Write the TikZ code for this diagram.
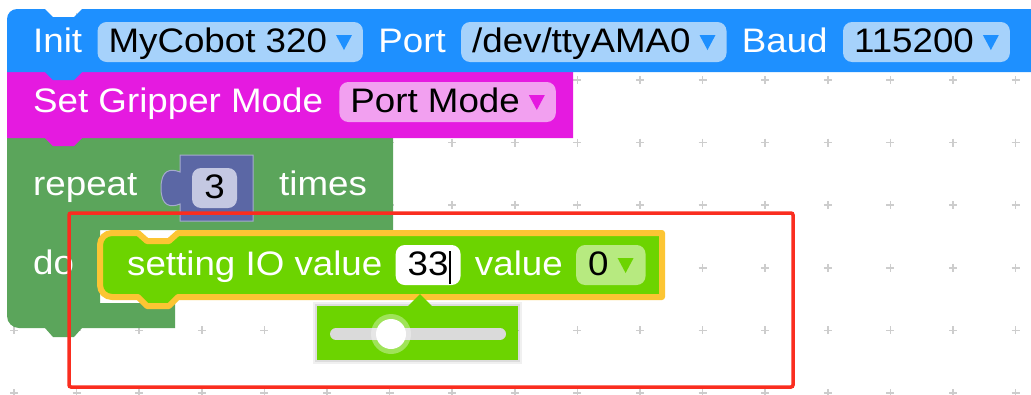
\documentclass[tikz,border=0pt]{standalone}
\usepackage{fontspec}
\newfontfamily\blockfont{Liberation Sans}[FakeStretch=1.08]
\usepackage{tikz}
\usetikzlibrary{positioning}
\tikzset{
	blocktext/.style={font=\blockfont\fontsize{34}{40}\selectfont, text=white, inner sep=0pt},
	fieldpill/.style={font=\blockfont\fontsize{34}{40}\selectfont, text=black, rounded corners=9pt, inner xsep=11pt, inner ysep=4pt, text height=26pt, text depth=6pt},
	gridplus/.style={plusgray, line width=1.6pt},
	selline/.style={draw=selyellow, line width=6pt, line join=round},
}
\definecolor{initblue}{RGB}{30,144,255}
\definecolor{initfield}{RGB}{166,210,251}
\definecolor{grippink}{RGB}{229,26,224}
\definecolor{gripfield}{RGB}{242,160,240}
\definecolor{loopgreen}{RGB}{91,165,91}
\definecolor{mathblue}{RGB}{91,103,165}
\definecolor{mathfield}{RGB}{196,200,226}
\definecolor{iogreen}{RGB}{108,212,0}
\definecolor{iofield}{RGB}{183,234,128}
\definecolor{selyellow}{RGB}{252,197,51}
\definecolor{markred}{RGB}{250,45,31}
\definecolor{trackgray}{RGB}{218,218,218}
\definecolor{plusgray}{RGB}{205,205,205}
\newcommand{\dropdown}[1]{\hspace{9pt}\tikz[baseline=0pt, sharp corners]\fill[#1] (0pt,17pt) -- (16pt,17pt) -- (8pt,2pt) -- cycle;}

\begin{document}
\begin{tikzpicture}[x=1pt,y=-1pt]
	\useasboundingbox (0,0) rectangle (1031,394);
	\fill[white] (0,0) rectangle (1031,394);
	\foreach \gx in {0,...,16}
		\foreach \gy in {0,...,6}
			\draw[gridplus] ({14+62.6*\gx-4},{17.4+62.6*\gy}) -- ++(8,0) ({14+62.6*\gx},{17.4+62.6*\gy-4}) -- ++(0,8);

	\fill[loopgreen] (7,138) -- (393,138) -- (393,230) -- (100,230) -- (100,303) -- (175,303) -- (175,328) -- (82,328) -- (74,337) -- (53,337) -- (45,328) -- (19,328) arc[start angle=90, end angle=180, radius=12] -- cycle;
	\fill[grippink] (7,72) -- (573,72) -- (573,138) -- (82,138) -- (74,146) -- (53,146) -- (45,138) -- (7,138) -- cycle;
	\fill[initblue] (1040,72) -- (82,72) -- (74,80) -- (53,80) -- (45,72) -- (7,72) -- (7,19) arc[start angle=180, end angle=270, radius=10] -- (45,9) -- (53,17) -- (74,17) -- (82,9) -- (1040,9) -- cycle;

	\node[blocktext, anchor=base west] (init) at (33,52) {Init};
	\node[fieldpill, fill=initfield, base right=15pt of init] (robot) {MyCobot 320\dropdown{initblue}};
	\node[blocktext, base right=15pt of robot] (port) {Port};
	\node[fieldpill, fill=initfield, base right=15pt of port] (portval) {/dev/ttyAMA0\dropdown{initblue}};
	\node[blocktext, base right=15pt of portval] (baud) {Baud};
	\node[fieldpill, fill=initfield, base right=15pt of baud] (baudval) {115200\dropdown{initblue}};

	\node[blocktext, anchor=base west] (gripper) at (33,112) {Set Gripper Mode};
	\node[fieldpill, fill=gripfield, base right=16pt of gripper] (gripmode) {Port Mode\dropdown{grippink}};

	\node[blocktext, anchor=base west] (repeat) at (33,195) {repeat};
	\node[blocktext, anchor=base west] (times) at (279,195) {times};
	\node[blocktext, anchor=base west] (do) at (33,274) {do};
	\filldraw[fill=mathblue, draw=mathblue!55!white, line width=1pt] (180,155) -- (253,155) -- (253,221) -- (180,221) -- (180,204) .. controls (170,208) and (161,206) .. (161,188) .. controls (161,170) and (170,168) .. (180,172) -- cycle;
	\node[fieldpill, fill=mathfield, minimum width=45pt, anchor=base] (count) at (214.5,198) {3};

	\path[fill=iogreen, selline] (100,245) arc[start angle=180, end angle=270, radius=12] -- (138,233) -- (147,241) -- (169,241) -- (178,233) -- (662,233) -- (662,297) -- (178,297) -- (169,306) -- (147,306) -- (138,297) -- (112,297) arc[start angle=90, end angle=180, radius=12] -- cycle;
	\node[blocktext, anchor=base west] (setting) at (127,275) {setting IO value};
	\node[fieldpill, fill=white, inner xsep=12pt, base right=13pt of setting] (pin) {33};
	\draw[black, line width=1.3pt] (450,251) -- (450,284);
	\node[blocktext, base right=14pt of pin] (valuelbl) {value};
	\node[fieldpill, fill=iofield, inner xsep=12pt, base right=13pt of valuelbl] (level) {0\dropdown{iogreen}};

	\fill[black, opacity=0.06] (313,302) rectangle (522,364);
	\fill[black, opacity=0.08] (315,304) rectangle (520,362);
	\fill[iogreen] (317,306) rectangle (518,360);
	\fill[iogreen] (408,306) -- (420,294) -- (432,306) -- cycle;
	\draw[trackgray, line width=12pt, line cap=round] (336,334) -- (500,334);
	\fill[white, opacity=0.35] (391,334) circle[radius=20pt];
	\fill[white] (391,334) circle[radius=15pt];

	\draw[markred, line width=3.5pt, rounded corners=2pt] (69,213) rectangle (793,387);
\end{tikzpicture}
\end{document}
